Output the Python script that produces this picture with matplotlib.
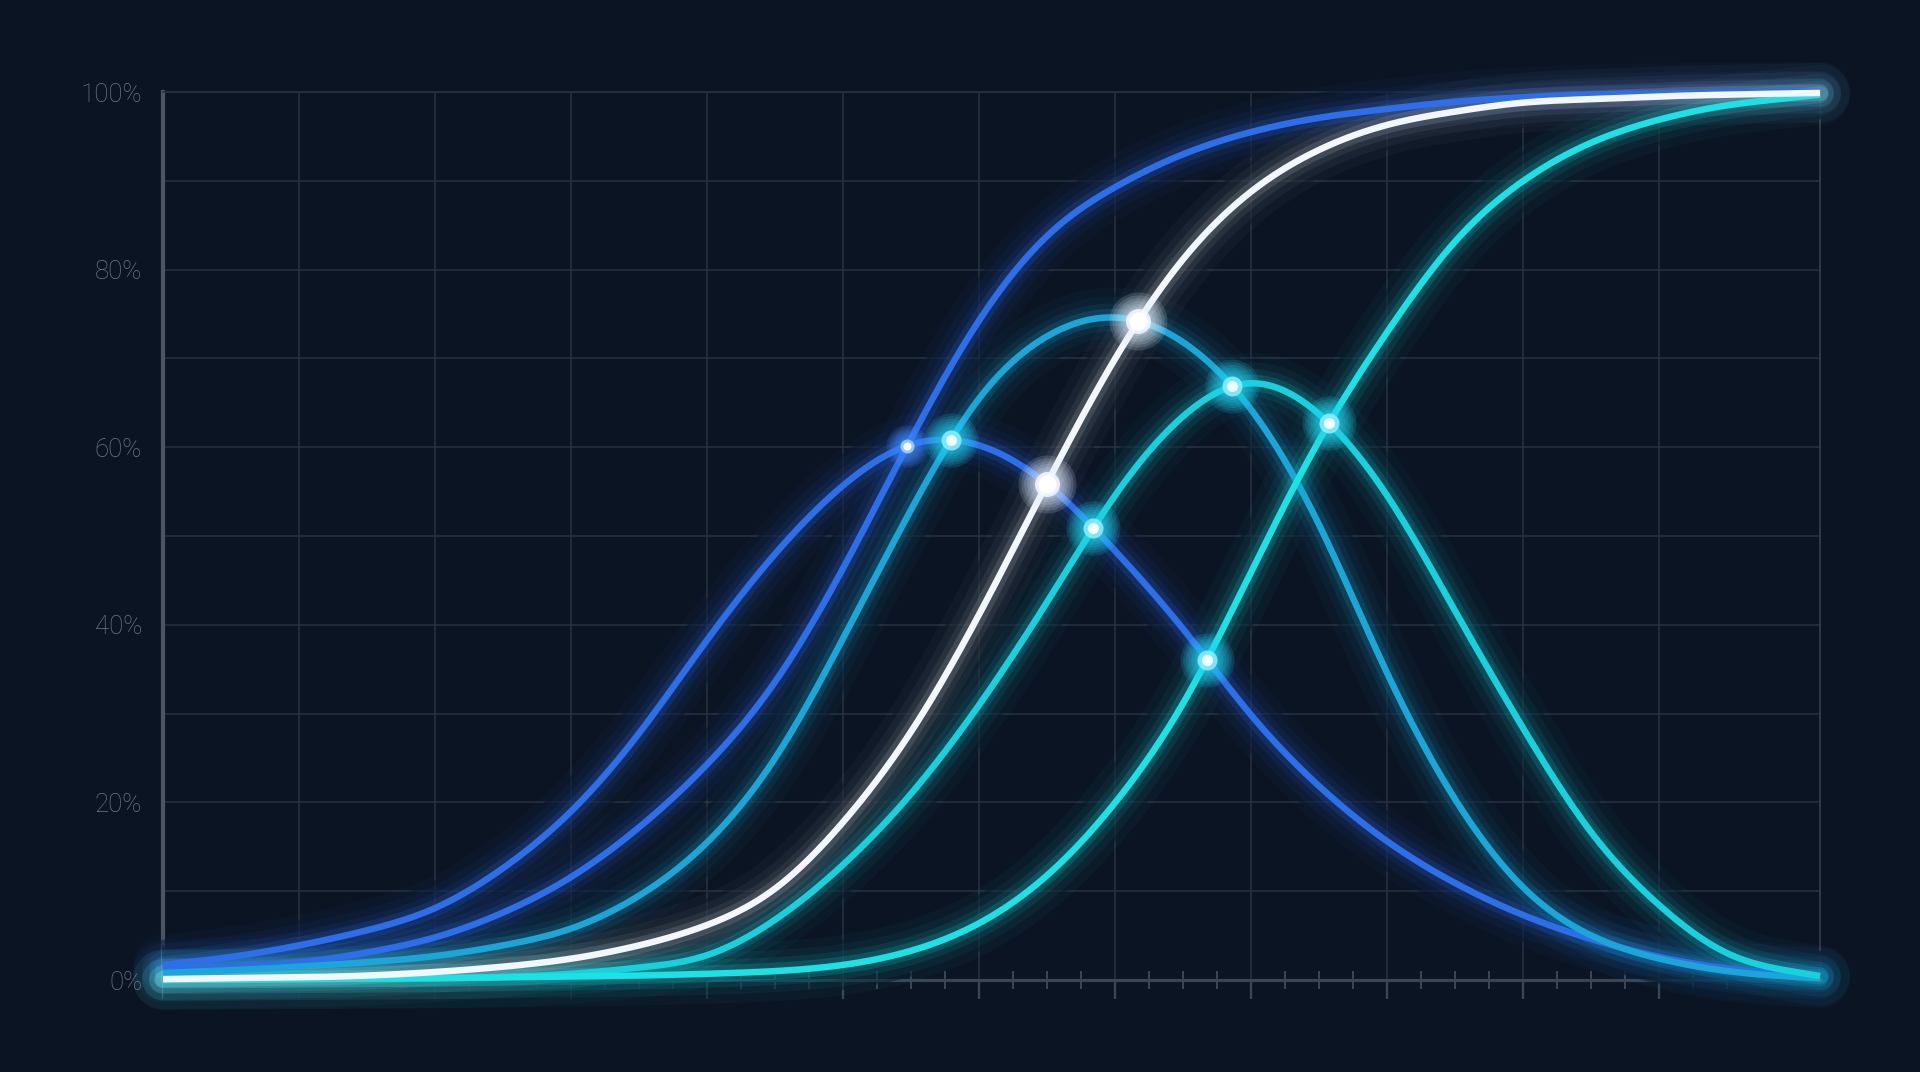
import numpy as np
import matplotlib
matplotlib.use("Agg")
import matplotlib.pyplot as plt
from matplotlib.ticker import MultipleLocator, FixedLocator

# ---------------- data ----------------
x_vals = [0.0, 0.5, 1.0, 1.5, 2.0, 2.5, 3.0, 3.5, 4.0, 4.5, 5.0, 5.5, 6.0,
          6.5, 7.0, 7.5, 8.0, 8.5, 9.0, 9.5, 10.0, 10.5, 11.0, 11.5, 12.0, 12.18]

blue_bell = [1.7, 2.6, 3.9, 5.6, 8.1, 12.6, 19.0, 27.8, 38.3, 48.0, 55.7, 60.3, 60.2,
             55.8, 48.3, 39.5, 29.8, 21.8, 15.6, 10.9, 7.3, 4.6, 2.6, 1.3, 0.6, 0.45]
blue_sig = [1.1, 1.5, 2.0, 3.1, 4.8, 7.6, 11.6, 17.2, 24.3, 33.6, 46.4, 61.0, 74.3,
            83.8, 89.3, 93.0, 95.5, 97.1, 98.1, 98.9, 99.4, 99.7, 99.85, 99.93, 100.0, 100.0]
teal_bell = [0.8, 1.1, 1.5, 2.0, 2.7, 3.9, 5.8, 9.5, 15.5, 25.0, 38.5, 53.0, 65.5,
             72.5, 74.6, 71.8, 64.2, 51.2, 34.5, 20.3, 10.4, 5.0, 2.4, 1.0, 0.35, 0.2]
white_sig = [0.1, 0.2, 0.3, 0.5, 0.9, 1.5, 2.4, 3.9, 6.2, 10.3, 17.8, 28.0, 41.2,
             56.0, 70.0, 81.2, 88.8, 93.5, 96.3, 97.8, 98.8, 99.2, 99.5, 99.7, 99.85, 99.9]
cyan_bell = [0.05, 0.05, 0.1, 0.15, 0.2, 0.35, 0.7, 1.4, 2.8, 6.8, 13.0, 21.0, 31.0,
             42.6, 54.6, 63.5, 67.2, 63.7, 54.5, 41.5, 28.3, 16.6, 8.4, 3.0, 0.9, 0.45]
cyan_sig = [0.0, 0.05, 0.1, 0.15, 0.2, 0.3, 0.4, 0.5, 0.7, 1.0, 1.7, 3.3, 6.4,
            11.8, 20.0, 31.2, 46.0, 60.8, 73.0, 83.2, 90.0, 94.3, 96.9, 98.5, 99.4, 99.7]

y_ticks = [0, 20, 40, 60, 80, 100]
y_tick_labels = ["0%", "20%", "40%", "60%", "80%", "100%"]

# highlighted crossings: (curve a, curve b, marker kind)
marker_pairs = [
    ("blue_bell", "blue_sig", "blue"),
    ("blue_bell", "teal_bell", "aqua"),
    ("blue_bell", "white_sig", "white"),
    ("blue_bell", "cyan_bell", "aqua"),
    ("teal_bell", "white_sig", "white"),
    ("teal_bell", "cyan_bell", "aqua"),
    ("cyan_bell", "cyan_sig", "aqua"),
    ("blue_bell", "cyan_sig", "aqua"),
]

# ---------------- style ----------------
BG = "#0b1423"
GRID = "#27323f"
SERIES = [
    ("blue_bell", blue_bell, "#2d6fea"),
    ("blue_sig", blue_sig, "#2d6fea"),
    ("teal_bell", teal_bell, "#1aa7d8"),
    ("cyan_bell", cyan_bell, "#17d2dc"),
    ("cyan_sig", cyan_sig, "#1be2e4"),
    ("white_sig", white_sig, "#f3f6fa"),
]

plt.rcParams["font.family"] = ["Roboto", "DejaVu Sans"]


def cspline(x, y, xn):
    """natural cubic spline through the read values (drawing only)"""
    x = np.asarray(x, float)
    y = np.asarray(y, float)
    n = len(x)
    h = np.diff(x)
    A = np.zeros((n, n))
    r = np.zeros(n)
    A[0, 0] = 1.0
    A[-1, -1] = 1.0
    for i in range(1, n - 1):
        A[i, i - 1] = h[i - 1]
        A[i, i] = 2 * (h[i - 1] + h[i])
        A[i, i + 1] = h[i]
        r[i] = 6 * ((y[i + 1] - y[i]) / h[i] - (y[i] - y[i - 1]) / h[i - 1])
    M = np.linalg.solve(A, r)
    i = np.clip(np.searchsorted(x, xn) - 1, 0, n - 2)
    hi = h[i]
    a = x[i + 1] - xn
    b = xn - x[i]
    return (M[i] * a**3 / (6 * hi) + M[i + 1] * b**3 / (6 * hi)
            + (y[i] / hi - M[i] * hi / 6) * a + (y[i + 1] / hi - M[i + 1] * hi / 6) * b)


PT = 0.72  # points per pixel at dpi 100

fig = plt.figure(figsize=(19.2, 10.72), dpi=100, facecolor=BG)
ax = fig.add_axes([163 / 1920, 92 / 1072, 1657 / 1920, 888 / 1072])
ax.set_facecolor(BG)
ax.set_xlim(x_vals[0], x_vals[-1])
ax.set_ylim(0, 100)
ax.set_axisbelow(True)

# ticks / grid
ax.xaxis.set_major_locator(FixedLocator(list(range(0, 12))))
ax.xaxis.set_minor_locator(MultipleLocator(0.25))
ax.set_yticks(y_ticks)
ax.set_yticklabels(y_tick_labels)
ax.yaxis.set_minor_locator(MultipleLocator(10))
ax.xaxis.grid(True, which="major", color=GRID, lw=1.1)
ax.yaxis.grid(True, which="both", color=GRID, lw=1.1)
ax.tick_params(axis="x", which="major", direction="out", length=14, width=1.6,
               color="#3b4656", labelbottom=False)
ax.tick_params(axis="x", which="minor", direction="inout", length=13, width=1.4,
               color="#3b4656")
ax.tick_params(axis="y", which="both", length=0, pad=15)
for lab in ax.get_yticklabels():
    lab.set_fontsize(18.5)
    lab.set_color("#6e7886")
    lab.set_fontweight("light")

ax.spines["left"].set_color("#4a5565")
ax.spines["left"].set_linewidth(3.0)
ax.spines["bottom"].set_color("#3a4555")
ax.spines["bottom"].set_linewidth(2.3)
ax.spines["top"].set_color(GRID)
ax.spines["top"].set_linewidth(1.2)
ax.spines["right"].set_color("#2e3947")
ax.spines["right"].set_linewidth(1.4)

xd = np.linspace(x_vals[0], x_vals[-1], 2400)
dense = {name: cspline(x_vals, vals, xd) for name, vals, _ in SERIES}

# masks that hide the grid close to each line
for name, vals, col in SERIES:
    ax.plot(xd, dense[name], color=BG, lw=50 * PT, alpha=0.55, solid_capstyle="butt",
            zorder=2.6, clip_on=False)

# glow
for name, vals, col in SERIES:
    strength = 0.75 if name == "white_sig" else 1.0
    for wpx, a in [(60, 0.035), (42, 0.055), (28, 0.09), (17, 0.17)]:
        ax.plot(xd, dense[name], color=col, lw=wpx * PT, alpha=a * strength,
                solid_capstyle="round", zorder=3, clip_on=False)

# main lines
for name, vals, col in SERIES:
    ax.plot(xd, dense[name], color=col, lw=6.5 * PT, solid_capstyle="butt",
            zorder=4, clip_on=False)

# glowing markers at crossings
KINDS = {
    "blue": dict(glow="#3d8cff", disc="#a8d4ff", core="#ffffff", dg=42, dd=14, dc=8),
    "aqua": dict(glow="#22d6f2", disc="#8ff0ff", core="#f2ffff", dg=54, dd=20, dc=11),
    "white": dict(glow="#e8f2ff", disc="#f6f9ff", core="#ffffff", dg=58, dd=25, dc=18),
}


def crossing(a, b):
    diff = dense[a] - dense[b]
    s = np.sign(diff)
    idx = np.where((s[:-1] * s[1:] < 0) & (xd[:-1] > 4) & (xd[:-1] < 10))[0]
    i = idx[0]
    f = diff[i] / (diff[i] - diff[i + 1])
    x0 = xd[i] + f * (xd[i + 1] - xd[i])
    y0 = dense[a][i] + f * (dense[a][i + 1] - dense[a][i])
    return x0, y0


for a, b, kind in marker_pairs:
    x0, y0 = crossing(a, b)
    k = KINDS[kind]
    for frac in np.linspace(1.0, 0.4, 7):
        ax.scatter([x0], [y0], s=(k["dg"] * frac * PT) ** 2, color=k["glow"],
                   alpha=0.15, lw=0, zorder=6, clip_on=False)
    ax.scatter([x0], [y0], s=(k["dd"] * PT) ** 2, color=k["disc"], alpha=0.85, lw=0,
               zorder=7, clip_on=False)
    ax.scatter([x0], [y0], s=(k["dc"] * PT) ** 2, color=k["core"], lw=0, zorder=8,
               clip_on=False)

fig.savefig("out.png", dpi=100, facecolor=BG)
